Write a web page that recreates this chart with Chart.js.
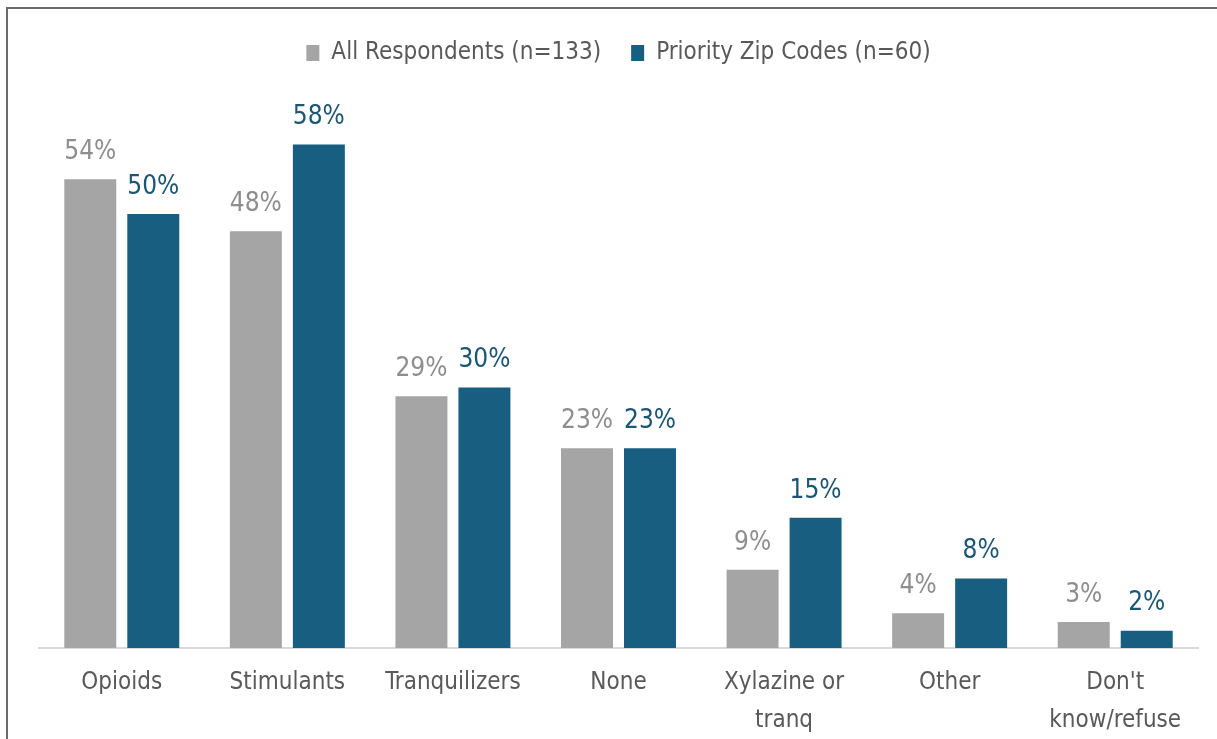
<!DOCTYPE html>
<html>
<head>
<meta charset="utf-8">
<script src="https://cdn.jsdelivr.net/npm/chart.js@4/dist/chart.umd.min.js"></script>
<style>
  html, body { margin: 0; padding: 0; background: #ffffff; overflow: hidden; }
  #wrap { position: absolute; left: 0; top: 0; width: 1217px; height: 739px; }
  #frame { position: absolute; left: 6px; top: 7px; width: 1400px; height: 900px;
           border-top: 2px solid #6b6b6b; border-left: 2px solid #6b6b6b; pointer-events: none; }
</style>
</head>
<body>
<div id="wrap"><canvas id="c" width="1217" height="739"></canvas></div>
<div id="frame"></div>
<script>
const categories = ["Opioids", "Stimulants", "Tranquilizers", "None", ["Xylazine or", "tranq"], "Other", ["Don't", "know/refuse"]];
const allRespondents = [54, 48, 29, 23, 9, 4, 3];
const priorityZip = [50, 58, 30, 23, 15, 8, 2];
const seriesNames = ["All Respondents (n=133)", "Priority Zip Codes (n=60)"];

const FONT = '"Liberation Sans Narrow", "DejaVu Sans Condensed", "Liberation Sans", sans-serif';
const barColors = ["#A5A5A5", "#175E80"];
const labelColors = ["#8E8E8E", "#1B5674"];

const valueLabels = {
  id: 'valueLabels',
  afterDatasetsDraw(chart) {
    const ctx = chart.ctx;
    ctx.save();
    ctx.font = '26px ' + FONT;
    ctx.textAlign = 'center';
    ctx.textBaseline = 'bottom';
    chart.data.datasets.forEach((ds, i) => {
      const meta = chart.getDatasetMeta(i);
      ctx.fillStyle = labelColors[i];
      meta.data.forEach((bar, j) => {
        ctx.fillText(ds.data[j] + '%', bar.x, bar.y - 14);
      });
    });
    ctx.restore();
  }
};

new Chart(document.getElementById('c'), {
  type: 'bar',
  data: {
    labels: categories,
    datasets: [
      { label: seriesNames[0], data: allRespondents, backgroundColor: barColors[0] },
      { label: seriesNames[1], data: priorityZip, backgroundColor: barColors[1] }
    ]
  },
  options: {
    responsive: false,
    animation: false,
    devicePixelRatio: 1,
    categoryPercentage: 0.761,
    barPercentage: 0.825,
    layout: { padding: { left: 39, right: 19, top: 11, bottom: 0 } },
    plugins: {
      legend: {
        position: 'top',
        labels: {
          font: { family: FONT, size: 24 },
          color: '#595959',
          boxWidth: 13,
          boxHeight: 16,
          padding: 30,
          useBorderRadius: false
        }
      },
      tooltip: { enabled: false }
    },
    scales: {
      x: {
        grid: { display: false, drawTicks: false },
        border: { display: true, color: '#D9D9D9', width: 2 },
        ticks: {
          font: { family: FONT, size: 24, lineHeight: 1.58 },
          color: '#595959',
          padding: 16,
          maxRotation: 0,
          autoSkip: false
        },
        afterFit(scale) { scale.height = 91; }
      },
      y: {
        display: false,
        min: 0,
        max: 66
      }
    }
  },
  plugins: [valueLabels]
});
</script>
</body>
</html>
